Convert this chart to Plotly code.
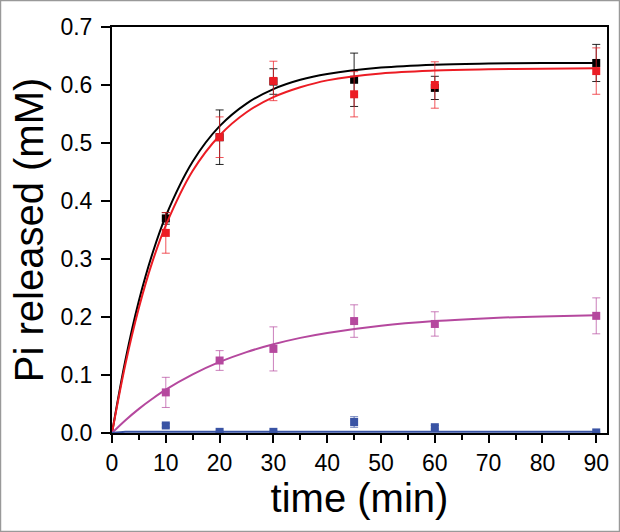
import plotly.graph_objects as go

# measured data points
time_pts = [10, 20, 30, 45, 60, 90]
black_vals = [0.370, 0.510, 0.606, 0.609, 0.595, 0.638]
black_err = [0.010, 0.047, 0.022, 0.046, 0.020, 0.032]
red_vals = [0.345, 0.510, 0.607, 0.584, 0.600, 0.624]
red_err = [0.035, 0.035, 0.034, 0.039, 0.040, 0.040]
mag_vals = [0.070, 0.125, 0.145, 0.193, 0.188, 0.202]
mag_err = [0.026, 0.017, 0.038, 0.028, 0.021, 0.031]
blue_vals = [0.013, 0.002, 0.002, 0.019, 0.010, 0.001]
blue_err = [0.003, 0.001, 0.001, 0.009, 0.003, 0.001]

# fitted curves
fit_t = [0, 2.5, 5, 7.5, 10, 15, 20, 25, 30, 35, 40, 50, 60, 70, 80, 90]
black_fit = [0, 0.126, 0.228, 0.309, 0.374, 0.468, 0.529, 0.568, 0.593, 0.609, 0.619, 0.630, 0.635, 0.637, 0.638, 0.638]
red_fit = [0, 0.119, 0.216, 0.295, 0.358, 0.452, 0.513, 0.553, 0.579, 0.596, 0.608, 0.620, 0.625, 0.627, 0.628, 0.629]
mag_fit = [0, 0.022, 0.0416, 0.059, 0.0747, 0.101, 0.1225, 0.1395, 0.153, 0.164, 0.1725, 0.185, 0.193, 0.198, 0.201, 0.203]
blue_fit = [0, 0.002, 0.002, 0.002, 0.002, 0.002, 0.002, 0.002, 0.002, 0.002, 0.002, 0.002, 0.002, 0.002, 0.002, 0.002]

x_ticks = list(range(0, 91, 10))
y_ticks = [0.0, 0.1, 0.2, 0.3, 0.4, 0.5, 0.6, 0.7]

series = [
    ("black", black_vals, black_err, black_fit, "#000000", "rgba(0,0,0,0.85)"),
    ("red", red_vals, red_err, red_fit, "#ec1c24", "rgba(236,28,36,0.75)"),
    ("magenta", mag_vals, mag_err, mag_fit, "#b5489e", "rgba(181,72,158,0.7)"),
    ("blue", blue_vals, blue_err, blue_fit, "#3953a4", "rgba(57,83,164,0.8)"),
]

fig = go.Figure()
for name, vals, err, fit, col, ecol in series:
    fig.add_trace(go.Scatter(
        x=fit_t, y=fit, mode="lines", line=dict(color=col, width=2, shape="spline"),
        showlegend=False, hoverinfo="skip"))
    fig.add_trace(go.Scatter(
        x=time_pts, y=vals, mode="markers",
        marker=dict(symbol="square", size=8, color=col),
        error_y=dict(type="data", array=err, visible=True, color=ecol, thickness=1, width=4),
        showlegend=False, name=name))

font_family = "Liberation Sans, Arial, sans-serif"
fig.update_layout(
    width=620, height=532,
    margin=dict(l=112, r=13, t=27, b=99),
    paper_bgcolor="white", plot_bgcolor="white",
    font=dict(family=font_family, color="black"),
    xaxis=dict(
        range=[0, 92], tickvals=x_ticks, ticktext=[str(v) for v in x_ticks],
        ticks="outside", ticklen=8, tickwidth=1.5, tickcolor="black",
        minor=dict(dtick=5, tick0=0, ticks="outside", ticklen=5, tickwidth=1.5, tickcolor="black"),
        showline=True, linecolor="black", linewidth=2, mirror=True,
        showgrid=False, zeroline=False,
        tickfont=dict(size=23, family=font_family),
        title=dict(text="time (min)", font=dict(size=40, family=font_family), standoff=6),
    ),
    yaxis=dict(
        range=[0, 0.7], tickvals=y_ticks, ticktext=["%.1f" % v for v in y_ticks],
        ticks="outside", ticklen=9, tickwidth=1.5, tickcolor="black",
        showline=True, linecolor="black", linewidth=2, mirror=True,
        showgrid=False, zeroline=False,
        tickfont=dict(size=23, family=font_family),
        ticklabelstandoff=4,
        title=dict(text="Pi released (mM)", font=dict(size=40, family=font_family), standoff=4),
    ),
    shapes=[dict(type="rect", xref="paper", yref="paper",
                 x0=-0.2253, x1=1.0253, y0=-0.2426, y1=1.0653,
                 line=dict(color="#999999", width=1.5), fillcolor="rgba(0,0,0,0)", layer="below")],
)

fig.write_html("out.html", config={"displayModeBar": False},
               post_script="document.body.style.margin='0';")
